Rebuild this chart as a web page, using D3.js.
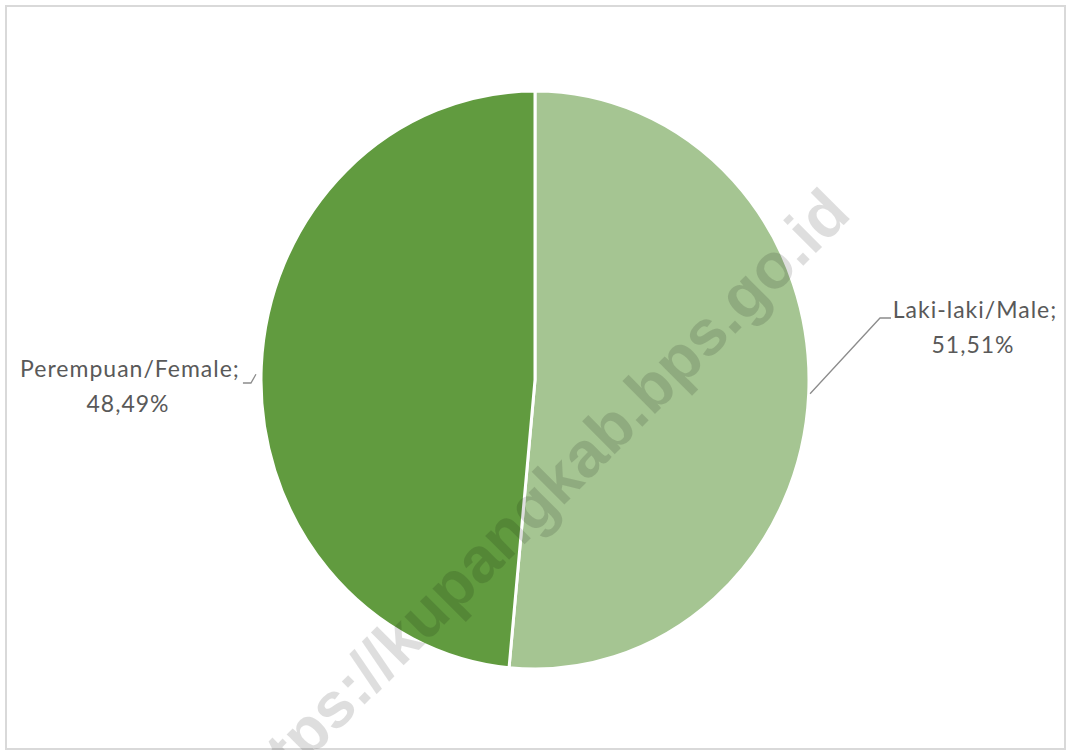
<!DOCTYPE html>
<html lang="id">
<head>
  <meta charset="UTF-8">
  <title>Penduduk menurut Jenis Kelamin</title>
  <script src="https://d3js.org/d3.v7.min.js"></script>
  <style>
    body { margin: 0; background: #fff; }
    svg { display: block; }
    .label text { font-family: "Lato", "Open Sans", sans-serif; fill: #595959; font-size: 23px; letter-spacing: 1px; }
  </style>
</head>
<body>
  <svg id="chart" width="1066" height="750"></svg>
  <script>
    // données
    const categories = ["Laki-laki/Male", "Perempuan/Female"];
    const values = [51.51, 48.49];
    const valueLabels = ["51,51%", "48,49%"];
    const colors = ["#a5c592", "#619b3f"];

    const svg = d3.select("#chart");
    const width = +svg.attr("width");
    const height = +svg.attr("height");

    // cadre
    svg.append("rect")
      .attr("x", 6).attr("y", 6)
      .attr("width", width - 7).attr("height", height - 7)
      .attr("fill", "#fff")
      .attr("stroke", "#d9d9d9")
      .attr("stroke-width", 2);

    // l'image d'origine est un peu écrasée : ellipse
    const cx = 535, cy = 380, rx = 274, ry = 289;

    const data = categories.map((c, i) => ({ name: c, value: values[i], label: valueLabels[i], color: colors[i] }));

    const pie = d3.pie().sort(null).value(d => d.value);
    const arcs = pie(data);
    const arc = d3.arc().innerRadius(0).outerRadius(ry);

    const g = svg.append("g")
      .attr("transform", `translate(${cx},${cy}) scale(${rx / ry},1)`);

    g.selectAll("path")
      .data(arcs)
      .join("path")
      .attr("d", arc)
      .attr("fill", d => d.data.color)
      .attr("stroke", "#fff")
      .attr("stroke-width", 3)
      .attr("vector-effect", "non-scaling-stroke");

    // point sur le bord de l'ellipse à un angle donné
    function edge(a, k) {
      return [cx + rx * k * Math.sin(a), cy - ry * k * Math.cos(a)];
    }

    // positions des étiquettes
    const labelPos = [
      { x: 975, y: 318, side: 1 },
      { x: 130, y: 377, side: -1 }
    ];

    arcs.forEach((d, i) => {
      const mid = (d.startAngle + d.endAngle) / 2;
      const p0 = edge(mid, 1.005);
      const lp = labelPos[i];
      let pts;
      if (lp.side > 0) {
        pts = [p0, [lp.x - 95, lp.y], [lp.x - 84, lp.y]];
      } else {
        pts = [[p0[0] - 4, p0[1] + 8], [p0[0] - 9, lp.y + 6], [p0[0] - 17, lp.y + 6]];
      }
      svg.append("path")
        .attr("d", d3.line()(pts))
        .attr("fill", "none")
        .attr("stroke", "#8c8c8c")
        .attr("stroke-width", 1.3);

      const t = svg.append("g").attr("class", "label");
      t.append("text")
        .attr("x", lp.x).attr("y", lp.y)
        .attr("text-anchor", "middle")
        .text(d.data.name + ";");
      t.append("text")
        .attr("x", lp.x - 2).attr("y", lp.y + 35)
        .attr("text-anchor", "middle")
        .text(d.data.label);
    });

    // filigrane
    svg.append("text")
      .attr("transform", "translate(853,216) rotate(-45)")
      .attr("text-anchor", "end")
      .style("font-family", "'Liberation Sans', Arial, sans-serif")
      .style("font-weight", "bold")
      .style("font-size", "64px")
      .attr("fill", "#000")
      .attr("fill-opacity", 0.13)
      .text("https://kupangkab.bps.go.id");
  </script>
</body>
</html>
